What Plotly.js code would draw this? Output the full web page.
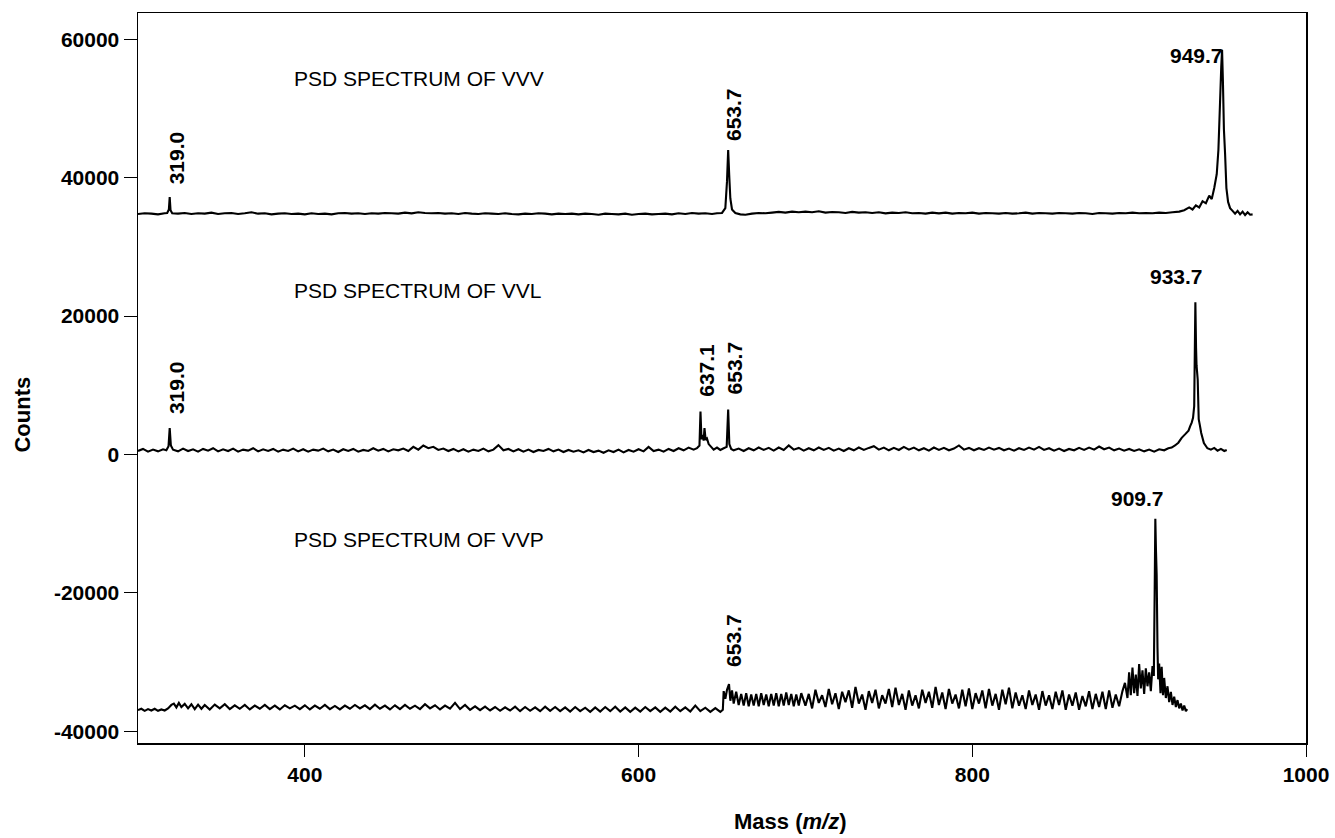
<!DOCTYPE html>
<html>
<head>
<meta charset="utf-8">
<script src="https://cdn.plot.ly/plotly-3.0.1.min.js"></script>
<style>html,body{margin:0;padding:0;background:#fff;}#chart{width:1335px;height:838px;}</style>
</head>
<body>
<div id="chart"></div>
<script>
// ---- data ----
const xTicks = [400, 600, 800, 1000];
const xTickText = ['400', '600', '800', '1000'];
const yTicks = [-40000, -20000, 0, 20000, 40000, 60000];
const yTickText = ['-40000', '-20000', '0', '20000', '40000', '60000'];

const spectrumNames = ['PSD SPECTRUM OF VVV', 'PSD SPECTRUM OF VVL', 'PSD SPECTRUM OF VVP'];

const vvvMass = [
 300,304,308,312,316,317.5,318.5,319,319.5,320.5,
 324,328,332,336,340,344,348,352,356,360,
 364,368,372,376,380,384,388,392,396,400,
 404,408,412,416,420,424,428,432,436,440,
 444,448,452,456,460,464,468,472,476,480,
 484,488,492,496,500,504,508,512,516,520,
 524,528,532,536,540,544,548,552,556,560,
 564,568,572,576,580,584,588,592,596,600,
 604,608,612,616,620,624,628,632,636,640,
 644,647,650,652,653,653.7,654.3,655,656,658,
 661,664,668,672,676,680,684,688,692,696,
 700,704,708,712,716,720,724,728,732,736,
 740,744,748,752,756,760,764,768,772,776,
 780,784,788,792,796,800,804,808,812,816,
 820,824,828,832,836,840,844,848,852,856,
 860,864,868,872,876,880,884,888,892,896,
 900,904,908,912,916,920,924,927,930,932,
 934,936,938,940,942,943.5,945,946.5,947.5,948.5,
 949.2,949.7,950.2,950.8,951.5,952.3,953.3,954.5,956,957.5,
 959,960.5,962,963.5,965,966.5,968];
const vvvCounts = [
 34750,34850,34800,34700,34850,34900,35400,37200,35300,34850,
 34800,34900,34750,34850,34800,34950,34750,34850,34900,34750,
 34850,35000,34800,34850,34700,34800,34850,34750,34800,34700,
 34850,34750,34800,34700,34850,34900,34800,34850,34750,34850,
 34800,34900,34850,34800,34950,34850,35000,34900,34850,34900,
 34800,34850,34750,34900,34800,34750,34850,34800,34750,34850,
 34750,34700,34800,34750,34850,34800,34700,34800,34750,34800,
 34700,34800,34750,34650,34800,34750,34700,34800,34650,34750,
 34800,34700,34750,34800,34700,34850,34750,34900,34800,34850,
 34750,34850,34900,35600,39500,44000,40500,37000,35400,34900,
 34700,34650,34800,34900,34850,34950,35050,34950,35100,35000,
 35100,35000,35150,34950,35050,35000,34900,35050,34950,35000,
 34900,35000,34850,34950,34900,35000,34850,34900,34800,34950,
 34850,34950,34800,34900,34850,34950,34800,34900,34850,34800,
 34900,34800,34850,34950,34800,34900,34850,34800,34900,34850,
 34800,34900,34850,34750,34900,34850,34800,34900,34850,34950,
 34850,34900,34850,34950,34900,35000,35100,35300,35700,35400,
 36000,35700,36600,36300,37400,36900,38500,40500,44000,51000,
 56000,58500,54000,47000,43500,38500,36500,35600,35200,34800,
 35200,34700,35100,34600,35000,34650,34700];

const vvlMass = [
 300,303,306,309,312,315,317,318.3,319,319.7,
 321,324,327,330,333,336,339,342,345,348,
 351,354,357,360,363,366,369,372,375,378,
 381,384,387,390,393,396,399,402,405,408,
 411,414,417,420,423,426,429,432,435,438,
 441,444,447,450,453,456,459,462,465,468,
 471,474,477,480,483,486,489,492,495,498,
 501,504,507,510,513,516,519,522,525,528,
 531,534,537,540,543,546,549,552,555,558,
 561,564,567,570,573,576,579,582,585,588,
 591,594,597,600,603,606,609,612,615,618,
 621,624,627,630,633,635,636.5,637.1,637.7,638.3,
 639,639.5,640.2,641,642,643.5,645,647,649,651,
 652.8,653.7,654.4,655.5,657,660,663,666,669,672,
 675,678,681,684,687,690,693,696,699,702,
 705,708,711,714,717,720,723,726,729,732,
 735,738,741,744,747,750,753,756,759,762,
 765,768,771,774,777,780,783,786,789,792,
 795,798,801,804,807,810,813,816,819,822,
 825,828,831,834,837,840,843,846,849,852,
 855,858,861,864,867,870,873,876,879,882,
 885,888,891,894,897,900,903,906,909,912,
 915,917.5,919.5,921.5,923.5,925.5,927.5,929.6,930.6,931.5,
 932.3,933,933.7,934.1,934.4,935.1,935.7,936.4,937.2,938.8,
 940.9,943,945,947,949,951,952.5];
const vvlCounts = [
 500,800,400,700,450,750,600,1200,3800,1300,
 700,450,850,500,750,400,800,550,900,450,
 750,500,850,400,700,550,900,450,750,500,
 800,400,700,500,850,450,750,400,700,550,
 850,450,700,350,750,500,800,400,650,500,
 900,550,800,450,750,600,850,500,1100,700,
 1300,900,1100,650,850,500,800,450,750,400,
 700,500,850,450,700,1350,600,800,450,750,
 400,700,350,650,500,800,450,700,350,650,
 400,600,300,650,350,550,250,600,350,700,
 300,650,400,750,450,1100,500,700,400,800,
 500,900,600,1000,700,900,1300,6200,2200,2800,
 2000,3800,2100,2300,1500,1100,700,1000,650,900,
 1100,6500,1500,800,600,850,500,900,600,1000,
 650,950,550,1000,650,1300,700,950,550,900,
 600,1000,650,950,550,850,500,900,600,1000,
 650,950,1200,700,1000,600,950,650,1100,700,
 1000,600,900,550,1000,650,950,600,850,1300,
 700,950,600,900,650,1000,700,950,600,850,
 550,900,650,1000,700,1100,650,900,550,850,
 500,800,600,950,650,1000,700,1150,750,1000,
 600,850,550,800,500,750,450,700,400,750,
 600,900,1000,1300,1700,2400,2900,3450,4100,4600,
 5300,7000,22000,15500,12900,10800,5100,4200,3100,1650,
 900,700,950,550,800,500,650];

const vvpMass = [
 300,302,304,306,308,310,312,314,316,318,
 320,321.5,323,324.5,326,328,330,332,334,336,
 338,340,343,346,349,352,355,358,361,364,
 367,370,373,376,379,382,385,388,391,394,
 397,400,403,406,409,412,415,418,421,424,
 427,430,433,436,439,442,445,448,451,454,
 457,460,463,466,469,472,475,478,481,484,
 487,490,493,496,499,502,505,508,511,514,
 517,520,523,526,529,532,535,538,541,544,
 547,550,553,556,559,562,565,568,571,574,
 577,580,583,586,589,592,595,598,601,604,
 607,610,613,616,619,622,625,628,631,634,
 637,640,643,646,649,650.5,651,652,653,654.2,
 655,656,657,658.5,660,661.5,663,664.5,666,667.5,
 669,670.5,672,673.5,675,676.5,678,679.5,681,682.5,
 684,685.5,687,688.5,690,691.5,693,694.5,696,697.5,
 700,702,704,706,708,710,712,714,716,718,
 720,722,724,726,728,730,732,734,736,738,
 740,742,744,746,748,750,752,754,756,758,
 760,762,764,766,768,770,772,774,776,778,
 780,782,784,786,788,790,792,794,796,798,
 800,802,804,806,808,810,812,814,816,818,
 820,822,824,826,828,830,832,834,836,838,
 840,842,844,846,848,850,852,854,856,858,
 860,862,864,866,868,870,872,874,876,878,
 880,882,884,886,888,890,891.5,893,894,895,
 896,897,898,899,900,901,902,903,904,905,
 906,907,908,908.8,909.3,909.7,910.1,910.5,911,911.4,
 912,912.8,913.5,914.3,915,916,917,918,919,920,
 921,922,923,924,925,926,927,928,928.8];
const vvpCounts = [
 -36950,-36750,-37050,-36800,-37000,-36750,-37050,-36850,-37000,-36700,
 -36200,-36000,-36550,-35900,-36500,-36050,-36700,-36100,-36800,-36150,
 -36750,-36200,-36850,-36150,-36700,-36100,-36800,-36250,-36750,-36200,
 -36850,-36300,-36750,-36200,-36800,-36300,-36850,-36250,-36700,-36300,
 -36800,-36250,-36850,-36300,-36750,-36200,-36800,-36350,-36850,-36300,
 -36750,-36200,-36700,-36250,-36800,-36150,-36750,-36300,-36850,-36250,
 -36800,-36200,-36750,-36300,-36800,-36100,-36700,-36250,-36850,-36300,
 -36750,-35900,-36800,-36200,-36900,-36400,-36950,-36450,-37000,-36500,
 -37050,-36550,-37000,-36450,-37100,-36500,-37050,-36550,-37100,-36450,
 -37050,-36500,-37100,-36550,-37150,-36500,-37100,-36600,-37200,-36550,
 -37150,-36500,-37100,-36450,-37150,-36550,-37200,-36600,-37150,-36500,
 -37100,-36550,-37200,-36600,-37150,-36450,-37100,-36550,-37150,-36300,
 -37100,-36600,-37200,-36650,-37200,-36900,-34200,-35300,-34000,-33200,
 -35600,-34100,-36000,-34300,-36200,-34600,-36300,-34500,-36400,-34700,
 -36300,-34600,-36400,-34500,-36200,-34700,-36400,-34600,-36300,-34500,
 -36400,-34600,-36300,-34400,-36200,-34600,-36400,-34700,-36300,-34500,
 -36300,-34600,-36700,-34000,-35900,-34800,-36500,-33900,-36100,-34500,
 -36800,-34300,-35800,-34100,-36600,-33600,-36000,-34700,-36900,-34200,
 -35900,-34000,-36700,-34800,-36000,-33900,-36500,-33700,-36200,-34600,
 -36900,-34100,-36300,-34800,-36700,-34000,-35900,-34300,-36600,-33600,
 -36200,-34400,-36800,-33900,-36000,-34700,-36700,-34000,-36400,-33800,
 -36800,-34500,-36000,-34100,-36700,-33900,-36300,-34600,-36900,-34000,
 -36100,-33700,-36700,-34400,-36300,-34800,-36800,-34100,-36200,-34700,
 -36900,-34200,-36300,-34800,-36800,-34300,-36200,-34100,-36900,-34700,
 -36300,-34400,-36900,-34900,-36400,-34200,-36800,-34600,-36500,-34300,
 -36800,-34100,-36600,-34700,-36400,-34200,-33000,-35200,-31500,-34800,
 -30800,-34500,-31800,-34900,-30300,-33800,-31200,-34600,-30900,-33500,
 -31500,-34200,-30600,-32000,-20000,-9300,-14000,-17400,-28000,-32500,
 -30200,-34500,-30700,-34800,-32300,-35200,-33500,-35800,-34300,-36200,
 -35000,-36500,-35500,-36700,-36000,-37000,-36300,-37100,-36800];

// peak labels: text, label centre (mass, counts), rotated?
const peakLabels   = ['319.0', '653.7', '949.7', '319.0', '637.1', '653.7', '933.7', '653.7', '909.7'];
const peakLabelX   = [322.8, 657.2, 934.1, 322.8, 640.6, 657.2, 922.1, 657.2, 899.0];
const peakLabelY   = [42800, 49060, 57730, 9600, 12140, 12430, 25700, -26950, -6330];
const peakLabelRot = [true, true, false, true, true, true, false, true, false];

const spectrumLabelX = [392.3, 392.3, 392.3];
const spectrumLabelY = [54400, 23630, -12350];

// ---- chart ----
const FONT = 'Liberation Sans, Arial, Helvetica, sans-serif';
const lineStyle = {color: '#000', width: 2.1, simplify: false};

const traces = [
  {x: vvvMass, y: vvvCounts, name: spectrumNames[0]},
  {x: vvlMass, y: vvlCounts, name: spectrumNames[1]},
  {x: vvpMass, y: vvpCounts, name: spectrumNames[2]}
].map(t => Object.assign(t, {type: 'scatter', mode: 'lines', line: lineStyle, hoverinfo: 'skip'}));

const annotations = [];
peakLabels.forEach((txt, i) => {
  annotations.push({
    x: peakLabelX[i], y: peakLabelY[i], xref: 'x', yref: 'y',
    text: txt, showarrow: false, textangle: peakLabelRot[i] ? -90 : 0,
    xanchor: 'center', yanchor: 'middle',
    font: {family: FONT, size: 21, weight: 'bold', color: '#000'}
  });
});
spectrumNames.forEach((txt, i) => {
  annotations.push({
    x: spectrumLabelX[i], y: spectrumLabelY[i], xref: 'x', yref: 'y',
    text: txt, showarrow: false, xanchor: 'left', yanchor: 'middle',
    font: {family: FONT, size: 21, color: '#000'}
  });
});
annotations.push({
  x: -0.0993, y: 0.45, xref: 'paper', yref: 'paper', text: 'Counts',
  showarrow: false, textangle: -90, xanchor: 'center', yanchor: 'middle',
  font: {family: FONT, size: 22, weight: 'bold', color: '#000'}
});
annotations.push({
  x: 0.559, y: -0.108, xref: 'paper', yref: 'paper', text: 'Mass (<i>m/z</i>)',
  showarrow: false, xanchor: 'center', yanchor: 'middle',
  font: {family: FONT, size: 22, weight: 'bold', color: '#000'}
});

const axisCommon = {
  ticks: 'outside', tickwidth: 1, tickcolor: '#000',
  showline: true, linecolor: '#000', linewidth: 1.5, mirror: true,
  showgrid: false, zeroline: false,
  tickfont: {family: FONT, size: 21, weight: 'bold', color: '#000'}
};

const layout = {
  width: 1335, height: 838,
  margin: {l: 138, r: 29, t: 13, b: 95},
  paper_bgcolor: '#fff', plot_bgcolor: '#fff',
  showlegend: false,
  font: {family: FONT, color: '#000'},
  xaxis: Object.assign({}, axisCommon, {range: [300, 1000], tickmode: 'array', tickvals: xTicks, ticktext: xTickText, ticklen: 12}),
  yaxis: Object.assign({}, axisCommon, {range: [-41700, 63800], tickmode: 'array', tickvals: yTicks, ticktext: yTickText, ticklen: 13}),
  annotations: annotations
};

Plotly.newPlot('chart', traces, layout, {displayModeBar: false, staticPlot: true});
</script>
</body>
</html>
